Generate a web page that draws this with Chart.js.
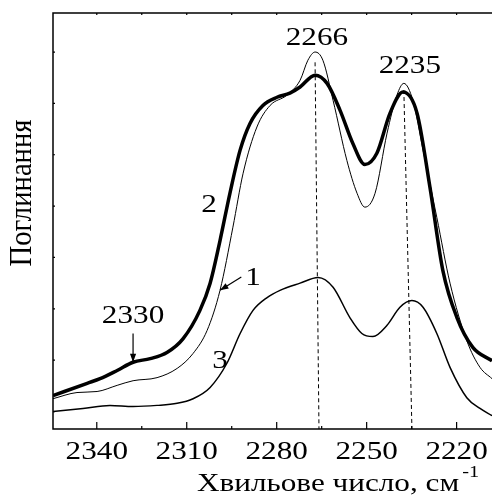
<!DOCTYPE html>
<html>
<head>
<meta charset="utf-8">
<script src="https://cdn.jsdelivr.net/npm/chart.js@4"></script>
<style>
  html, body { margin: 0; padding: 0; background: #fff; overflow: hidden; }
  canvas { display: block; }
</style>
</head>
<body>
<canvas id="chart" width="492" height="495"></canvas>
<script>
// Spectrum data (wavenumber, cm-1 / absorbance, arbitrary units)
const wn2 = [2354.6, 2343.2, 2338.9, 2333.2, 2327.9, 2322.2, 2316.6, 2311.2, 2305.6, 2302.2, 2298.9, 2295.6, 2292.2, 2288.9, 2284.6, 2279.9, 2275.6, 2272.2, 2267.2, 2263.2, 2258.9, 2254.6, 2250.6, 2246.6, 2242.2, 2237.9, 2233.2, 2228.9, 2224.6, 2219.9, 2214.6, 2208.2];
const abs2 = [0.031, 0.055, 0.064, 0.080, 0.096, 0.103, 0.115, 0.142, 0.197, 0.250, 0.333, 0.425, 0.509, 0.561, 0.596, 0.612, 0.620, 0.632, 0.655, 0.639, 0.587, 0.522, 0.481, 0.503, 0.581, 0.622, 0.581, 0.437, 0.275, 0.183, 0.125, 0.099];

const wn1 = [2354.6, 2346.6, 2339.9, 2333.2, 2327.9, 2319.9, 2313.2, 2307.9, 2303.2, 2298.9, 2294.6, 2291.2, 2286.6, 2282.2, 2276.6, 2272.2, 2269.6, 2267.2, 2264.6, 2261.2, 2256.6, 2253.2, 2250.6, 2247.2, 2243.2, 2239.9, 2237.6, 2234.6, 2231.2, 2226.6, 2222.2, 2216.6, 2212.2, 2208.2];
const abs1 = [0.025, 0.037, 0.039, 0.051, 0.060, 0.066, 0.084, 0.113, 0.158, 0.236, 0.359, 0.464, 0.554, 0.596, 0.616, 0.645, 0.684, 0.700, 0.684, 0.606, 0.489, 0.425, 0.398, 0.425, 0.542, 0.616, 0.639, 0.606, 0.509, 0.378, 0.250, 0.138, 0.086, 0.064];

const wn3 = [2354.6, 2344.6, 2335.6, 2327.9, 2319.9, 2313.2, 2307.9, 2302.2, 2296.6, 2292.2, 2287.9, 2283.2, 2278.9, 2272.2, 2266.2, 2261.2, 2255.6, 2251.6, 2247.9, 2243.2, 2238.9, 2234.9, 2231.2, 2226.6, 2222.2, 2216.6, 2212.2, 2208.2];
const abs3 = [0.000, 0.006, 0.012, 0.010, 0.012, 0.016, 0.025, 0.047, 0.094, 0.152, 0.197, 0.222, 0.236, 0.250, 0.261, 0.242, 0.183, 0.152, 0.146, 0.168, 0.203, 0.216, 0.203, 0.152, 0.086, 0.027, 0.006, -0.008];

// Peak marker lines (top and bottom ends)
const peak1Wn = [2267.2, 2265.9];
const peak1Abs = [0.680, -0.034];
const peak2Wn = [2237.6, 2234.9];
const peak2Abs = [0.626, -0.034];

const xMajorTicks = [2340, 2310, 2280, 2250, 2220];
const xMinorTicks = [2325, 2295, 2265, 2235];
const yTicks = [0, 0.1, 0.2, 0.3, 0.4, 0.5, 0.6, 0.7];

// Text labels on the plot (wavenumber, absorbance at text baseline)
const labels = [
    { text: '2266', x: 2266.6, y: 0.713 },
    { text: '2235', x: 2235.6, y: 0.659 },
    { text: '2', x: 2302.6, y: 0.388 },
    { text: '1', x: 2287.9, y: 0.246 },
    { text: '2330', x: 2327.9, y: 0.172 },
    { text: '3', x: 2298.9, y: 0.084 }
];
const arrows = [
    { from: [2291.8, 0.262], to: [2298.9, 0.236] },
    { from: [2327.9, 0.152], to: [2327.9, 0.096] }
];

const FONT = "'Liberation Serif', 'Times New Roman', serif";
const STRETCH = 1.2;   // glyphs in the original are drawn a bit wide

function toPoints(xs, ys) {
    return xs.map((x, i) => ({ x: x, y: ys[i] }));
}

// draw text with horizontal stretch, centred on x (or left aligned)
function wideText(ctx, text, x, y, size, align) {
    ctx.save();
    ctx.font = size + 'px ' + FONT;
    ctx.textBaseline = 'alphabetic';
    ctx.textAlign = 'left';
    const w = ctx.measureText(text).width * STRETCH;
    const x0 = align === 'left' ? x : x - w / 2;
    ctx.translate(x0, y);
    ctx.scale(STRETCH, 1);
    ctx.fillText(text, 0, 0);
    ctx.restore();
    return w;
}

// Frame, inward ticks, tick labels, axis titles and annotations
const decor = {
    id: 'decor',
    afterDraw(chart) {
        const ctx = chart.ctx;
        const a = chart.chartArea;
        const xs = chart.scales.x;
        const ys = chart.scales.y;
        ctx.save();
        ctx.strokeStyle = '#000';
        ctx.fillStyle = '#000';
        ctx.lineWidth = 1.5;
        ctx.beginPath();
        ctx.moveTo(a.right + 2, a.top);
        ctx.lineTo(a.left, a.top);
        ctx.lineTo(a.left, a.bottom);
        ctx.lineTo(a.right + 2, a.bottom);
        ctx.stroke();

        ctx.lineWidth = 1.2;
        ctx.beginPath();
        xMajorTicks.forEach(v => {
            const px = xs.getPixelForValue(v);
            ctx.moveTo(px, a.bottom); ctx.lineTo(px, a.bottom - 7);
            ctx.moveTo(px, a.top); ctx.lineTo(px, a.top + 2);
        });
        xMinorTicks.forEach(v => {
            const px = xs.getPixelForValue(v);
            ctx.moveTo(px, a.bottom); ctx.lineTo(px, a.bottom - 3);
            ctx.moveTo(px, a.top); ctx.lineTo(px, a.top + 2);
        });
        yTicks.forEach(v => {
            const py = ys.getPixelForValue(v);
            ctx.moveTo(a.left, py); ctx.lineTo(a.left + 2, py);
        });
        ctx.stroke();

        // tick labels
        xMajorTicks.forEach(v => {
            wideText(ctx, String(v), xs.getPixelForValue(v), a.bottom + 30, 26);
        });

        labels.forEach(l => {
            wideText(ctx, l.text, xs.getPixelForValue(l.x), ys.getPixelForValue(l.y), 26);
        });

        ctx.lineWidth = 1.2;
        arrows.forEach(ar => {
            const x0 = xs.getPixelForValue(ar.from[0]), y0 = ys.getPixelForValue(ar.from[1]);
            const x1 = xs.getPixelForValue(ar.to[0]), y1 = ys.getPixelForValue(ar.to[1]);
            const ang = Math.atan2(y1 - y0, x1 - x0);
            ctx.beginPath();
            ctx.moveTo(x0, y0);
            ctx.lineTo(x1, y1);
            ctx.stroke();
            ctx.beginPath();
            ctx.moveTo(x1, y1);
            ctx.lineTo(x1 - 9 * Math.cos(ang - 0.35), y1 - 9 * Math.sin(ang - 0.35));
            ctx.lineTo(x1 - 9 * Math.cos(ang + 0.35), y1 - 9 * Math.sin(ang + 0.35));
            ctx.closePath();
            ctx.fill();
        });

        // x axis title with superscript
        const w = wideText(ctx, 'Хвильове число, см', 197, 491, 26, 'left');
        wideText(ctx, '-1', 197 + w + 3, 477, 17, 'left');

        // y axis title, rotated
        ctx.save();
        ctx.translate(31, 193);
        ctx.rotate(-Math.PI / 2);
        ctx.font = '26px ' + FONT;
        ctx.textAlign = 'left';
        ctx.textBaseline = 'alphabetic';
        const yw = ctx.measureText('Поглинання').width;
        const k = 147 / yw;
        ctx.scale(k, STRETCH);
        ctx.fillText('Поглинання', -yw / 2, 0);
        ctx.restore();

        ctx.restore();
    }
};

new Chart(document.getElementById('chart'), {
    type: 'line',
    data: {
        datasets: [
            {
                label: '1',
                data: toPoints(wn1, abs1),
                borderColor: '#000',
                borderWidth: 1,
                cubicInterpolationMode: 'monotone',
                pointRadius: 0
            },
            {
                label: '2',
                data: toPoints(wn2, abs2),
                borderColor: '#000',
                borderWidth: 3.5,
                cubicInterpolationMode: 'monotone',
                pointRadius: 0
            },
            {
                label: '3',
                data: toPoints(wn3, abs3),
                borderColor: '#000',
                borderWidth: 1.5,
                cubicInterpolationMode: 'monotone',
                pointRadius: 0
            },
            {
                label: 'peak 2266',
                data: toPoints(peak1Wn, peak1Abs),
                borderColor: '#000',
                borderWidth: 1,
                borderDash: [4, 3],
                pointRadius: 0
            },
            {
                label: 'peak 2235',
                data: toPoints(peak2Wn, peak2Abs),
                borderColor: '#000',
                borderWidth: 1,
                borderDash: [4, 3],
                pointRadius: 0
            }
        ]
    },
    options: {
        responsive: false,
        animation: false,
        layout: { padding: { top: 13, right: 0, left: 0, bottom: 0 } },
        plugins: {
            legend: { display: false },
            tooltip: { enabled: false }
        },
        scales: {
            x: {
                type: 'linear',
                reverse: true,
                min: 2208.2,
                max: 2354.6,
                grid: { display: false, drawTicks: false },
                border: { display: false },
                ticks: { display: false },
                afterFit: (scale) => { scale.height = 66; }
            },
            y: {
                min: -0.034,
                max: 0.776,
                grid: { display: false, drawTicks: false },
                border: { display: false },
                ticks: { display: false },
                afterFit: (scale) => { scale.width = 53; }
            }
        }
    },
    plugins: [decor]
});
</script>
</body>
</html>
